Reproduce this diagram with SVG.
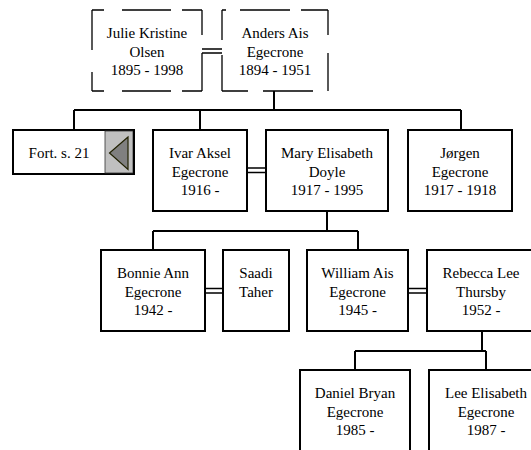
<svg xmlns="http://www.w3.org/2000/svg" width="531" height="450" viewBox="0 0 531 450">
<style>
.box{fill:#fff;stroke:#000;stroke-width:2}
.dash{fill:none;stroke:#000;stroke-width:1.3}
.con{fill:none;stroke:#000;stroke-width:2}
.dbl{fill:none;stroke:#000;stroke-width:1.6}
</style>
<rect width="531" height="450" fill="#fff"/>
<g id="connectors">
<path class="dbl" d="M202 49H222M202 53H222"/>
<path class="con" d="M274 91V110M74 110H461M74 110V130M200 110V130M461 110V130"/>
<path class="dbl" d="M247 168H266M247 172.5H266"/>
<path class="con" d="M327 211V231M153 231H358M153 231V250M358 231V250"/>
<path class="dbl" d="M205 288.5H223M205 293H223"/>
<path class="dbl" d="M408 288.5H427M408 293H427"/>
<path class="con" d="M482 331V351M355 351H486M355 351V370M486 351V370"/>
</g>
<g id="julie">
<path class="dash" d="M92 10H202M92 91H202" stroke-dasharray="12 18 49 11 20"/>
<path class="dash" d="M92 10V91" stroke-dasharray="40 22 19"/>
<path class="dash" d="M202 10V91" stroke-dasharray="25 18 38"/>
<text x="147" y="38" style="font-family:'Liberation Serif',serif;font-size:15px;text-anchor:middle">Julie Kristine</text>
<text x="147" y="56.5" style="font-family:'Liberation Serif',serif;font-size:15px;text-anchor:middle">Olsen</text>
<text x="147" y="75" style="font-family:'Liberation Serif',serif;font-size:15px;text-anchor:middle">1895 - 1998</text>
</g>
<g id="anders">
<path class="dash" d="M222 10H328" stroke-dasharray="4 14 50 11 27"/>
<path class="dash" d="M222 91H328" stroke-dasharray="26 15 50 15"/>
<path class="dash" d="M222 10V91" stroke-dasharray="30 15 36"/>
<path class="dash" d="M328 10V91" stroke-dasharray="25 18 38"/>
<text x="275" y="38" style="font-family:'Liberation Serif',serif;font-size:15px;text-anchor:middle">Anders Ais</text>
<text x="275" y="56.5" style="font-family:'Liberation Serif',serif;font-size:15px;text-anchor:middle">Egecrone</text>
<text x="275" y="75" style="font-family:'Liberation Serif',serif;font-size:15px;text-anchor:middle">1894 - 1951</text>
</g>
<g id="fort">
<rect class="box" x="13" y="130" width="121" height="44"/>
<rect x="105" y="131" width="28" height="42" fill="#c0c0c0" stroke="#333" stroke-width="0.8"/>
<path d="M128 137L109.5 153L128 169.5Z" fill="#808080" stroke="#202000" stroke-width="1.2"/>
<path d="M134 130V174" stroke="#000" stroke-width="2"/>
<text x="59" y="158" style="font-family:'Liberation Serif',serif;font-size:15px;text-anchor:middle">Fort. s. 21</text>
</g>
<g id="ivar">
<rect class="box" x="153" y="130" width="94" height="81"/>
<text x="200" y="158" style="font-family:'Liberation Serif',serif;font-size:15px;text-anchor:middle">Ivar Aksel</text>
<text x="200" y="176.5" style="font-family:'Liberation Serif',serif;font-size:15px;text-anchor:middle">Egecrone</text>
<text x="200" y="195" style="font-family:'Liberation Serif',serif;font-size:15px;text-anchor:middle">1916 -</text>
</g>
<g id="mary">
<rect class="box" x="266" y="130" width="122" height="81"/>
<text x="327" y="158" style="font-family:'Liberation Serif',serif;font-size:15px;text-anchor:middle">Mary Elisabeth</text>
<text x="327" y="176.5" style="font-family:'Liberation Serif',serif;font-size:15px;text-anchor:middle">Doyle</text>
<text x="327" y="195" style="font-family:'Liberation Serif',serif;font-size:15px;text-anchor:middle">1917 - 1995</text>
</g>
<g id="jorgen">
<rect class="box" x="408" y="130" width="104" height="81"/>
<text x="460" y="158" style="font-family:'Liberation Serif',serif;font-size:15px;text-anchor:middle">Jørgen</text>
<text x="460" y="176.5" style="font-family:'Liberation Serif',serif;font-size:15px;text-anchor:middle">Egecrone</text>
<text x="460" y="195" style="font-family:'Liberation Serif',serif;font-size:15px;text-anchor:middle">1917 - 1918</text>
</g>
<g id="bonnie">
<rect class="box" x="101" y="250" width="104" height="81"/>
<text x="153" y="278" style="font-family:'Liberation Serif',serif;font-size:15px;text-anchor:middle">Bonnie Ann</text>
<text x="153" y="296.5" style="font-family:'Liberation Serif',serif;font-size:15px;text-anchor:middle">Egecrone</text>
<text x="153" y="315" style="font-family:'Liberation Serif',serif;font-size:15px;text-anchor:middle">1942 -</text>
</g>
<g id="saadi">
<rect class="box" x="223" y="250" width="66" height="81"/>
<text x="256" y="278" style="font-family:'Liberation Serif',serif;font-size:15px;text-anchor:middle">Saadi</text>
<text x="256" y="296.5" style="font-family:'Liberation Serif',serif;font-size:15px;text-anchor:middle">Taher</text>
</g>
<g id="william">
<rect class="box" x="307" y="250" width="101" height="81"/>
<text x="357.5" y="278" style="font-family:'Liberation Serif',serif;font-size:15px;text-anchor:middle">William Ais</text>
<text x="357.5" y="296.5" style="font-family:'Liberation Serif',serif;font-size:15px;text-anchor:middle">Egecrone</text>
<text x="357.5" y="315" style="font-family:'Liberation Serif',serif;font-size:15px;text-anchor:middle">1945 -</text>
</g>
<g id="rebecca">
<rect class="box" x="427" y="250" width="108" height="81"/>
<text x="481" y="278" style="font-family:'Liberation Serif',serif;font-size:15px;text-anchor:middle">Rebecca Lee</text>
<text x="481" y="296.5" style="font-family:'Liberation Serif',serif;font-size:15px;text-anchor:middle">Thursby</text>
<text x="481" y="315" style="font-family:'Liberation Serif',serif;font-size:15px;text-anchor:middle">1952 -</text>
</g>
<g id="daniel">
<rect class="box" x="300" y="370" width="110" height="81"/>
<text x="355" y="398" style="font-family:'Liberation Serif',serif;font-size:15px;text-anchor:middle">Daniel Bryan</text>
<text x="355" y="416.5" style="font-family:'Liberation Serif',serif;font-size:15px;text-anchor:middle">Egecrone</text>
<text x="355" y="435" style="font-family:'Liberation Serif',serif;font-size:15px;text-anchor:middle">1985 -</text>
</g>
<g id="lee">
<rect class="box" x="429" y="370" width="114" height="81"/>
<text x="486" y="398" style="font-family:'Liberation Serif',serif;font-size:15px;text-anchor:middle">Lee Elisabeth</text>
<text x="486" y="416.5" style="font-family:'Liberation Serif',serif;font-size:15px;text-anchor:middle">Egecrone</text>
<text x="486" y="435" style="font-family:'Liberation Serif',serif;font-size:15px;text-anchor:middle">1987 -</text>
</g>
</svg>
